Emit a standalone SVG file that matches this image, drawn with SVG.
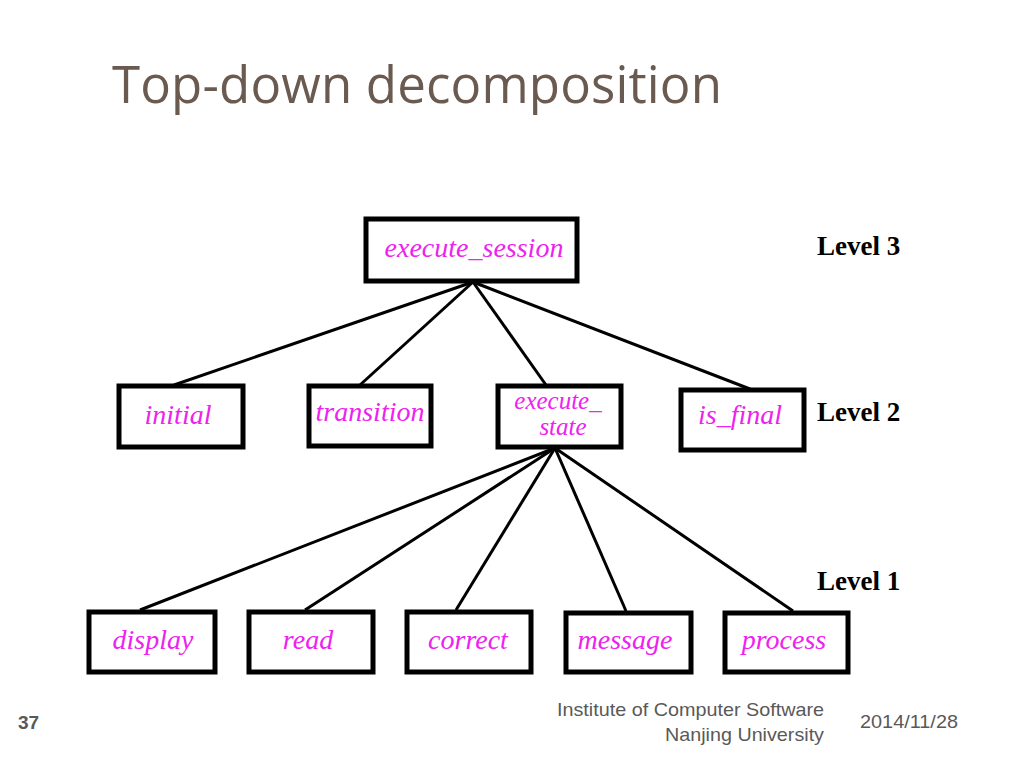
<svg xmlns="http://www.w3.org/2000/svg" width="1024" height="768" viewBox="0 0 1024 768">
<style>
.box{fill:#fff;stroke:#000;stroke-width:5}
.lbl{font-family:"Liberation Serif",serif;font-style:italic;font-size:28px;fill:#ee22ee;text-anchor:middle}
.lbl2{font-family:"Liberation Serif",serif;font-style:italic;font-size:25px;fill:#ee22ee;text-anchor:middle}
.lvl{font-family:"Liberation Serif",serif;font-weight:bold;font-size:27px;fill:#000}
.edge{stroke:#000;stroke-width:3;fill:none}
.foot{font-family:"Liberation Sans",sans-serif;font-size:19px;fill:#595959;lengthAdjust:spacingAndGlyphs}
</style>
<rect width="1024" height="768" fill="#fff"/>
<text x="112" y="103" font-family="'Open Sans',sans-serif" font-size="51" fill="#6b5a50" textLength="610">Top-down decomposition</text>
<g id="connectors">
<line class="edge" x1="473" y1="282" x2="174" y2="385"/>
<line class="edge" x1="473" y1="282" x2="360" y2="385" stroke-width="2"/>
<line class="edge" x1="473" y1="282" x2="546" y2="385"/>
<line class="edge" x1="473" y1="282" x2="750" y2="389"/>
<line class="edge" x1="555" y1="448" x2="140" y2="610"/>
<line class="edge" x1="555" y1="448" x2="305" y2="610"/>
<line class="edge" x1="555" y1="448" x2="456" y2="610"/>
<line class="edge" x1="555" y1="448" x2="626" y2="611"/>
<line class="edge" x1="555" y1="448" x2="793" y2="611"/>
</g>
<g id="execute_session"><rect class="box" x="366" y="219" width="211" height="62"/><text class="lbl" x="474" y="257">execute_session</text></g>
<g id="initial"><rect class="box" x="119" y="386" width="124" height="61"/><text class="lbl" x="178" y="424">initial</text></g>
<g id="transition"><rect class="box" x="309" y="386" width="122" height="60"/><text class="lbl" x="370" y="421">transition</text></g>
<g id="execute_state"><rect class="box" x="498" y="386" width="123" height="61"/><text class="lbl2" x="558" y="409">execute_</text><text class="lbl2" x="563" y="435">state</text></g>
<g id="is_final"><rect class="box" x="681" y="390" width="123" height="60"/><text class="lbl" x="740" y="424">is_final</text></g>
<g id="display"><rect class="box" x="89" y="612" width="126" height="60"/><text class="lbl" x="153" y="649">display</text></g>
<g id="read"><rect class="box" x="249" y="612" width="124" height="60"/><text class="lbl" x="308" y="649">read</text></g>
<g id="correct"><rect class="box" x="407" y="612" width="124" height="60"/><text class="lbl" x="468" y="649">correct</text></g>
<g id="message"><rect class="box" x="566" y="613" width="125" height="59"/><text class="lbl" x="625" y="649">message</text></g>
<g id="process"><rect class="box" x="725" y="613" width="123" height="59"/><text class="lbl" x="784" y="649">process</text></g>
<text class="lvl" x="817" y="255">Level 3</text>
<text class="lvl" x="817" y="421">Level 2</text>
<text class="lvl" x="817" y="590">Level 1</text>
<text x="18" y="729" font-family="'Liberation Sans',sans-serif" font-weight="bold" font-size="19" fill="#595959">37</text>
<text class="foot" x="557" y="716" textLength="267" lengthAdjust="spacingAndGlyphs">Institute of Computer Software</text>
<text class="foot" x="665" y="741" textLength="159" lengthAdjust="spacingAndGlyphs">Nanjing University</text>
<text class="foot" x="860" y="728" textLength="98" lengthAdjust="spacingAndGlyphs">2014/11/28</text>
</svg>
